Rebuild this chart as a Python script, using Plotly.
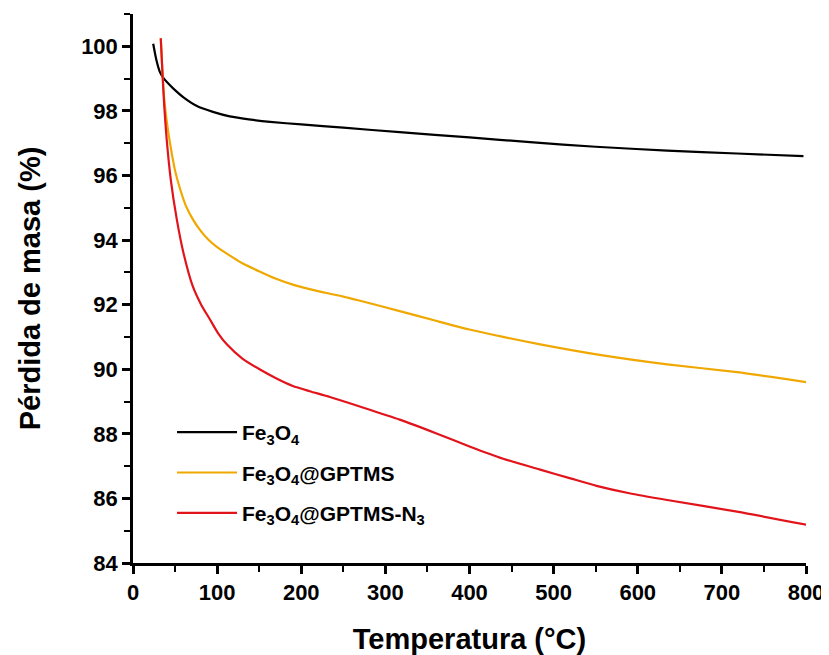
import plotly.graph_objects as go

# Temperature (°C) and mass (%)
t_fe3o4 = [24, 28, 32, 36, 40, 48, 60, 76, 95, 115, 140, 163, 200, 250, 317, 400, 472, 550, 635, 718, 797]
m_fe3o4 = [100.08, 99.55, 99.2, 99.02, 98.9, 98.69, 98.42, 98.15, 97.97, 97.83, 97.73, 97.66, 97.58,
           97.48, 97.34, 97.18, 97.03, 96.89, 96.77, 96.68, 96.6]

t_gptms = [33, 35, 37, 40, 44, 50, 56, 63, 71, 80, 90, 100, 111.5, 130, 151, 170, 190, 210, 230,
           250, 270, 317, 360, 400, 440, 484, 551, 635, 718, 801]
m_gptms = [100.25, 99.2, 98.4, 97.7, 97.0, 96.15, 95.58, 95.05, 94.65, 94.3, 94.0, 93.78, 93.58,
           93.28, 93.02, 92.8, 92.62, 92.48, 92.36, 92.25, 92.12, 91.80, 91.5, 91.23, 91.0, 90.77,
           90.46, 90.15, 89.91, 89.60]

t_n3 = [33, 35, 37, 40, 45, 52, 60, 71, 81, 91.5, 101, 111.5, 130, 151, 170, 190, 210, 234, 275,
        317, 360, 400, 440, 484, 520, 551, 590, 635, 718, 801]
m_n3 = [100.25, 99.2, 98.2, 97.13, 95.85, 94.65, 93.6, 92.57, 92.0, 91.54, 91.12, 90.77, 90.33,
        89.99, 89.72, 89.48, 89.32, 89.14, 88.8, 88.44, 88.02, 87.61, 87.23, 86.89, 86.62, 86.39,
        86.16, 85.95, 85.59, 85.18]

names = ["Fe<sub>3</sub>O<sub>4</sub>",
         "Fe<sub>3</sub>O<sub>4</sub>@GPTMS",
         "Fe<sub>3</sub>O<sub>4</sub>@GPTMS-N<sub>3</sub>"]
colors = ["#000000", "#F0A800", "#E2141B"]

x_ticks = [0, 100, 200, 300, 400, 500, 600, 700, 800]
y_ticks = [84, 86, 88, 90, 92, 94, 96, 98, 100]

FONT = "Liberation Sans, Arial, sans-serif"

fig = go.Figure()
for i, (t, m, n, c) in enumerate(zip([t_fe3o4, t_gptms, t_n3], [m_fe3o4, m_gptms, m_n3], names, colors)):
    fig.add_trace(go.Scatter(x=t, y=m, name=n, mode="lines", legendgroup=f"g{i}",
                             line=dict(color=c, width=2.2, shape="spline", smoothing=0.6)))

# page body has an 8px default margin; margins compensate for it
fig.update_layout(
    width=829, height=655,
    margin=dict(l=125, r=31, t=6, b=100),
    paper_bgcolor="white", plot_bgcolor="white",
    font=dict(family=FONT, color="black"),
    showlegend=True,
    legend=dict(x=0.058, y=0.275, xanchor="left", yanchor="top",
                bgcolor="rgba(0,0,0,0)",
                font=dict(family=FONT, size=21, color="black", weight="bold"),
                tracegroupgap=10, itemwidth=60),
)
fig.update_xaxes(
    range=[0, 800], tickvals=x_ticks, ticktext=[str(v) for v in x_ticks],
    showgrid=False, zeroline=False, automargin=False,
    showline=True, linecolor="black", linewidth=2.5,
    ticks="outside", ticklen=8, tickwidth=2.5, tickcolor="black",
    minor=dict(ticks="outside", ticklen=6, tickwidth=2, tickcolor="black", dtick=50, tick0=0, showgrid=False),
    tickfont=dict(family=FONT, size=22, color="black", weight="bold"),
    title=dict(text="Temperatura (°C)", standoff=25,
               font=dict(family=FONT, size=29, color="black", weight="bold")),
)
fig.update_yaxes(
    range=[84, 101], tickvals=y_ticks, ticktext=[str(v) for v in y_ticks],
    showgrid=False, zeroline=False, automargin=False,
    showline=True, linecolor="black", linewidth=2.5,
    ticks="outside", ticklen=8, tickwidth=2.5, tickcolor="black",
    minor=dict(ticks="outside", ticklen=6, tickwidth=2, tickcolor="black", dtick=1, tick0=84, showgrid=False),
    tickfont=dict(family=FONT, size=22, color="black", weight="bold"),
    title=dict(text="Pérdida de masa (%)", standoff=32,
               font=dict(family=FONT, size=29, color="black", weight="bold")),
)

fig.write_html("out.html")
